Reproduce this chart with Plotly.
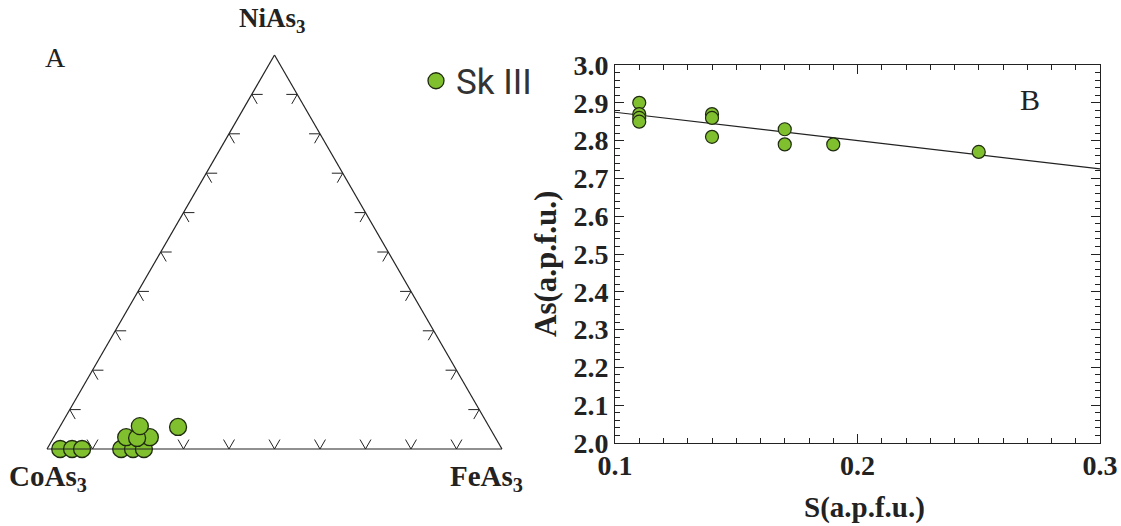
import plotly.graph_objects as go

# ---------------- Panel A: ternary data ----------------
ni_frac = [0.0, 0.0, 0.0, 0.0, 0.0, 0.0, 0.030, 0.030, 0.028, 0.058, 0.056]
co_frac = [0.971, 0.945, 0.923, 0.837, 0.811, 0.787, 0.811, 0.759, 0.788, 0.767, 0.684]
fe_frac = [0.029, 0.055, 0.077, 0.163, 0.189, 0.213, 0.159, 0.211, 0.184, 0.175, 0.260]
tern_ticks = [0.1, 0.2, 0.3, 0.4, 0.5, 0.6, 0.7, 0.8, 0.9]
series_name = "Sk III"

# ---------------- Panel B: scatter data ----------------
s_apfu = [0.11, 0.11, 0.11, 0.11, 0.14, 0.14, 0.14, 0.17, 0.17, 0.19, 0.25]
as_apfu = [2.90, 2.87, 2.86, 2.85, 2.87, 2.86, 2.81, 2.83, 2.79, 2.79, 2.77]
fit_x = [0.1, 0.3]
fit_y = [2.875, 2.725]

GREEN = "#80BF2E"
EDGE = "#1f2b10"
SERIF = "Liberation Serif, Times New Roman, serif"
W, H = 1121, 526

fig = go.Figure()

# chevron tick marks inside the triangle (built from ternary coords)
d = 0.024
ta, tb, tc = [], [], []
for t in tern_ticks:
    # bottom edge (a = 0)
    ta += [d, 0, d, None]
    tb += [1 - t - d, 1 - t, 1 - t, None]
    tc += [t, t, t - d, None]
    # left edge (c = 0)
    ta += [t, t, t - d, None]
    tb += [1 - t - d, 1 - t, 1 - t, None]
    tc += [d, 0, d, None]
    # right edge (b = 0)
    ta += [t, t, t - d, None]
    tb += [d, 0, d, None]
    tc += [1 - t - d, 1 - t, 1 - t, None]

fig.add_trace(go.Scatterternary(
    a=ta, b=tb, c=tc, mode="lines", subplot="ternary",
    line=dict(color="#222", width=1), hoverinfo="skip", showlegend=False))

fig.add_trace(go.Scatterternary(
    a=ni_frac, b=co_frac, c=fe_frac, mode="markers", name=series_name,
    subplot="ternary", cliponaxis=False,
    marker=dict(size=17, color=GREEN, line=dict(color=EDGE, width=1.3)),
    showlegend=True))

# panel B
fig.add_trace(go.Scatter(
    x=fit_x, y=fit_y, mode="lines", line=dict(color="#222", width=1.2),
    xaxis="x", yaxis="y", showlegend=False, hoverinfo="skip"))
fig.add_trace(go.Scatter(
    x=s_apfu, y=as_apfu, mode="markers", xaxis="x", yaxis="y",
    marker=dict(size=13, color=GREEN, line=dict(color=EDGE, width=1.2)),
    showlegend=False))

tern_axis = dict(showline=True, linecolor="#222", linewidth=1.2, showgrid=False,
                 showticklabels=False, ticks="", title=dict(text=""), min=0)

tickfont = dict(family=SERIF, size=28, color="#222", weight="bold")

fig.update_layout(
    width=W, height=H,
    margin=dict(l=0, r=0, t=0, b=0, pad=0, autoexpand=False),
    paper_bgcolor="white", plot_bgcolor="white",
    ternary=dict(
        domain=dict(x=[47 / W, 502 / W], y=[1 - 449 / H, 1 - 55 / H]),
        sum=1, bgcolor="white",
        aaxis=tern_axis, baxis=tern_axis, caxis=tern_axis),
    xaxis=dict(
        domain=[615 / W, 1100 / W], range=[0.1, 0.3], anchor="y", automargin=False,
        tickmode="array", tickvals=[0.1, 0.2, 0.3], ticktext=["0.1", "0.2", "0.3"],
        ticks="inside", ticklen=9, tickwidth=1, tickcolor="#222",
        minor=dict(dtick=0.01, ticks="inside", ticklen=5, tickwidth=1, tickcolor="#222"),
        showline=True, linecolor="#222", linewidth=1, mirror="allticks",
        showgrid=False, zeroline=False, tickfont=tickfont, ticklabelstandoff=-3),
    yaxis=dict(
        domain=[1 - 443 / H, 1 - 65 / H], range=[2.0, 3.0], anchor="x", automargin=False,
        dtick=0.1, tickformat=".1f",
        ticks="inside", ticklen=9, tickwidth=1, tickcolor="#222",
        minor=dict(dtick=0.02, ticks="inside", ticklen=5, tickwidth=1, tickcolor="#222"),
        showline=True, linecolor="#222", linewidth=1, mirror="allticks",
        showgrid=False, zeroline=False, tickfont=tickfont, ticklabelstandoff=0),
    legend=dict(x=416 / W, y=1 - 81 / H, xanchor="left", yanchor="middle",
                bgcolor="rgba(0,0,0,0)",
                font=dict(family="Liberation Sans Narrow, Roboto, Arial, sans-serif",
                          size=35, color="#333")),
    showlegend=True,
)

ann = [
    dict(text="NiAs<sub>3</sub>", x=272 / W, y=1 - 20 / H, size=27, bold=True),
    dict(text="CoAs<sub>3</sub>", x=48 / W, y=1 - 478 / H, size=29, bold=True),
    dict(text="FeAs<sub>3</sub>", x=486 / W, y=1 - 478 / H, size=29, bold=True),
    dict(text="A", x=55 / W, y=1 - 58 / H, size=28, bold=False),
    dict(text="B", x=1030 / W, y=1 - 100 / H, size=30, bold=False),
    dict(text="S(a.p.f.u.)", x=864 / W, y=1 - 507 / H, size=29, bold=True),
]
for a in ann:
    fig.add_annotation(
        text=a["text"], x=a["x"], y=a["y"], xref="paper", yref="paper",
        xanchor="center", yanchor="middle", showarrow=False,
        font=dict(family=SERIF, size=a["size"], color="#222",
                  weight="bold" if a["bold"] else "normal"))

fig.add_annotation(
    text="As(a.p.f.u.)", x=545 / W, y=1 - 264 / H, xref="paper", yref="paper",
    xanchor="center", yanchor="middle", showarrow=False, textangle=-90,
    font=dict(family=SERIF, size=31, color="#222", weight="bold"))

fig.write_html("out.html",
               config={"displayModeBar": False},
               post_script="document.body.style.margin='0px';")
